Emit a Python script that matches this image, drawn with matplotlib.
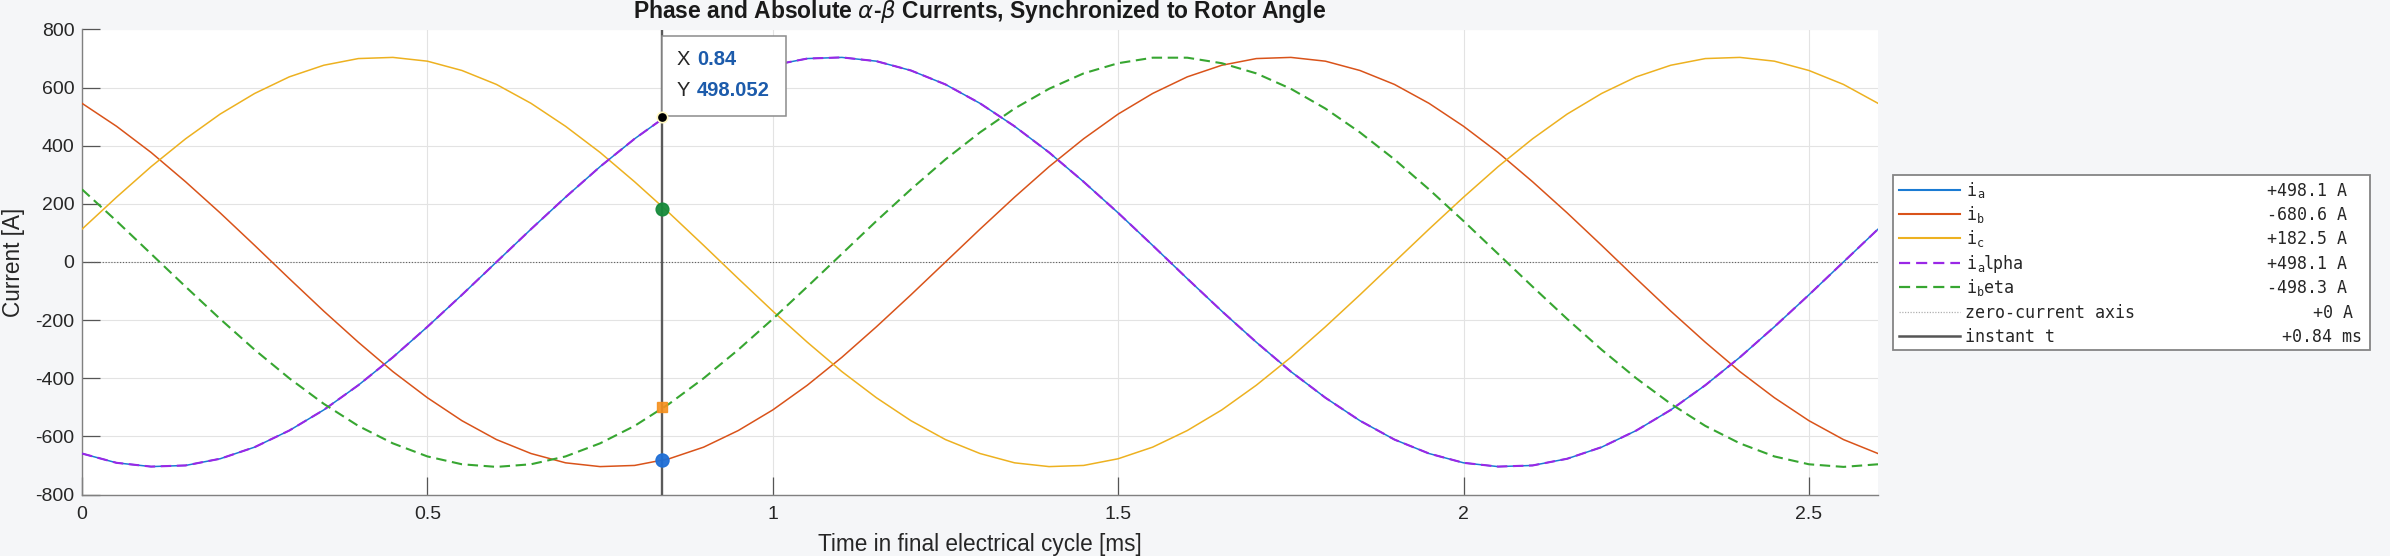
import matplotlib
matplotlib.use('Agg')
import matplotlib.pyplot as plt
from matplotlib.lines import Line2D
from matplotlib.patches import Rectangle
import numpy as np

# ------------------------------------------------------------------ data
# sample instants (ms) over the final electrical cycle, 0.05 ms apart
t_ms = np.linspace(0.0, 2.6, 53)

i_a = [-659, -691, -704, -700, -677, -637, -580, -509, -424, -328, -223, -113,
       0, 113, 223, 328, 424, 509, 580, 637, 677, 700, 704, 691, 659, 611,
       546, 467, 377, 276, 169, 57, -57, -169, -276, -377, -467, -546, -611,
       -659, -691, -704, -700, -677, -637, -580, -509, -424, -328, -223, -113,
       0, 113]
i_b = [546, 467, 377, 276, 169, 57, -57, -169, -276, -377, -467, -546, -611,
       -659, -691, -704, -700, -677, -637, -580, -509, -424, -328, -223, -113,
       0, 113, 223, 328, 424, 509, 580, 637, 677, 700, 704, 691, 659, 611,
       546, 467, 377, 276, 169, 57, -57, -169, -276, -377, -467, -546, -611,
       -659]
i_c = [113, 223, 328, 424, 509, 580, 637, 677, 700, 704, 691, 659, 611, 546,
       467, 377, 276, 169, 57, -57, -169, -276, -377, -467, -546, -611, -659,
       -691, -704, -700, -677, -637, -580, -509, -424, -328, -223, -113, 0,
       113, 223, 328, 424, 509, 580, 637, 677, 700, 704, 691, 659, 611, 546]
i_alpha = list(i_a)  # identical to phase a in the picture
i_beta = [250, 141, 28, -85, -196, -302, -400, -488, -564, -624, -669, -696,
          -705, -696, -669, -624, -564, -488, -400, -302, -196, -85, 28, 141,
          250, 353, 446, 528, 596, 649, 684, 703, 703, 684, 649, 596, 528, 446,
          353, 250, 141, 28, -85, -196, -302, -400, -488, -564, -624, -669,
          -696, -705, -696]

x_ticks = [0, 0.5, 1, 1.5, 2, 2.5]
x_tick_labels = ['0', '0.5', '1', '1.5', '2', '2.5']
y_ticks = [-800, -600, -400, -200, 0, 200, 400, 600, 800]
y_tick_labels = ['-800', '-600', '-400', '-200', '0', '200', '400', '600', '800']

cursor_t = 0.84
readout_names = ['a', 'b', 'c', 'alpha', 'beta']
readout_vals = [498.1, -680.6, 182.5, 498.1, -498.3]
zero_val = 0
datatip_x = 0.84
datatip_y = 498.052

# ------------------------------------------------------------------ style
C_A = '#1a7bd3'
C_B = '#d9531a'
C_C = '#edb120'
C_AL = '#9a27e6'
C_BE = '#37a631'
TXT = '#262626'
BG = '#f5f6f8'
SANS = ['Liberation Sans', 'DejaVu Sans']
MONO = ['DejaVu Sans Mono']

plt.rcParams['font.family'] = SANS

W, H = 2390, 556
fig = plt.figure(figsize=(W / 100, H / 100), dpi=100, facecolor=BG)
ax = fig.add_axes([82 / W, (H - 494.5) / H, (1878 - 82) / W, (494.5 - 29.5) / H])
ov = fig.add_axes([0, 0, 1, 1], zorder=5)
ov.set_xlim(0, W)
ov.set_ylim(H, 0)
ov.axis('off')

ax.set_facecolor('white')
dash = (0, (5, 2.7))
ax.plot(t_ms, i_a, color=C_A, lw=1.1, zorder=3)
ax.plot(t_ms, i_b, color=C_B, lw=1.1, zorder=3)
ax.plot(t_ms, i_c, color=C_C, lw=1.1, zorder=3)
ax.plot(t_ms, i_alpha, color=C_AL, lw=1.5, ls=dash, zorder=4)
ax.plot(t_ms, i_beta, color=C_BE, lw=1.5, ls=dash, zorder=4)
ax.axhline(zero_val, color='#5f5f5f', lw=0.8, ls=(0, (1, 1.6)), zorder=2)
ax.axvline(cursor_t, color='#5a5a5a', lw=1.7, zorder=6)

# cursor markers
ax.plot([cursor_t], [readout_vals[2]], 'o', ms=9.2, color='#168a3b', alpha=0.95, zorder=7)
ax.plot([cursor_t], [readout_vals[4]], 's', ms=7.0, color='#f5901e', alpha=0.9, zorder=7)
ax.plot([cursor_t], [readout_vals[1]], 'o', ms=9.4, color='#1f6fd6', alpha=0.95, zorder=7)

ax.set_xlim(0, 2.6)
ax.set_ylim(-800, 800)
ax.set_xticks(x_ticks)
ax.set_xticklabels(x_tick_labels)
ax.set_yticks(y_ticks)
ax.set_yticklabels(y_tick_labels)
ax.tick_params(direction='in', length=13, width=0.9, color='#555555',
               labelsize=14, labelcolor=TXT)
ax.tick_params(axis='y', pad=5.5)
ax.tick_params(axis='x', pad=8)
ax.grid(True, color='#e3e3e3', lw=0.8, zorder=0)
ax.set_axisbelow(True)
for s in ['top', 'right']:
    ax.spines[s].set_visible(False)
for s in ['left', 'bottom']:
    ax.spines[s].set_color('#808080')
    ax.spines[s].set_linewidth(1.0)

ax.set_title('Phase and Absolute $\\alpha$-$\\beta$ Currents, Synchronized to Rotor Angle',
             fontsize=16.5, fontweight='bold', color='#1a1a1a', pad=8)
ax.set_xlabel('Time in final electrical cycle [ms]', fontsize=16.3, color=TXT)
ax.xaxis.set_label_coords(0.5, -0.082)
ax.set_ylabel('Current [A]', fontsize=16.3, color=TXT)
ax.yaxis.set_label_coords(-0.032, 0.5)

# datatip box (pixel layout) + black datatip marker
ax.add_patch(Rectangle((662.5, 35.7), 123.2, 80.0, transform=ov.transData,
                       facecolor='white', edgecolor='#8c8c8c', lw=1.1,
                       zorder=10, clip_on=False))
ax.plot([datatip_x], [datatip_y], 'o', ms=7.5, mfc='black', mec='#fff7c0',
        mew=1.2, zorder=11, clip_on=False)
ov.text(676.5, 65, 'X', fontsize=14.5, color=TXT, va='baseline', ha='left')
ov.text(697.5, 65, f'{datatip_x:g}', fontsize=14.5, color='#1c5bab',
        fontweight='bold', va='baseline', ha='left')
ov.text(676.5, 96, 'Y', fontsize=14.5, color=TXT, va='baseline', ha='left')
ov.text(696.5, 96, f'{datatip_y:g}', fontsize=14.5, color='#1c5bab',
        fontweight='bold', va='baseline', ha='left')

# legend (pixel layout)
ov.add_patch(Rectangle((1893, 175), 477, 175, facecolor='white',
                       edgecolor='#858585', lw=1.3))
rows_y = [189.5 + 24.4 * i for i in range(7)]
handles = [
    dict(color=C_A, lw=1.5, ls='-'),
    dict(color=C_B, lw=1.5, ls='-'),
    dict(color=C_C, lw=1.5, ls='-'),
    dict(color=C_AL, lw=1.6, ls=(0, (5, 2.7))),
    dict(color=C_BE, lw=1.6, ls=(0, (5, 2.7))),
    dict(color='#b0b0b0', lw=0.9, ls=(0, (1, 1.2))),
    dict(color='#555555', lw=1.8, ls='-'),
]
for y, h in zip(rows_y, handles):
    ov.add_line(Line2D([1899, 1960], [y, y], **h))

x0 = 1967
cw = 9.9
subs = [('i', 'a', ''), ('i', 'b', ''), ('i', 'c', ''), ('i', 'a', 'lpha'), ('i', 'b', 'eta')]
for y, (m, s, rest) in zip(rows_y[:5], subs):
    ov.text(x0, y + 6.2, m, fontsize=12, family=MONO, color=TXT, va='baseline')
    ov.text(x0 + cw, y + 9.0, s, fontsize=8.5, family=MONO, color=TXT, va='baseline')
    if rest:
        ov.text(x0 + cw + 7.2, y + 6.2, rest, fontsize=12, family=MONO, color=TXT, va='baseline')
ov.text(1965, rows_y[5] + 6.2, 'zero-current axis', fontsize=12, family=MONO,
        color=TXT, va='baseline')
ov.text(1965, rows_y[6] + 6.2, 'instant t', fontsize=12, family=MONO,
        color=TXT, va='baseline')

for y, v in zip(rows_y[:5], readout_vals):
    ov.text(2347, y + 6.2, f'{v:+.1f} A', fontsize=12, family=MONO, color=TXT,
            va='baseline', ha='right')
ov.text(2353, rows_y[5] + 6.2, f'{zero_val:+d} A', fontsize=12, family=MONO,
        color=TXT, va='baseline', ha='right')
ov.text(2362, rows_y[6] + 6.2, f'{cursor_t:+.2f} ms', fontsize=12, family=MONO,
        color=TXT, va='baseline', ha='right')

fig.savefig('out.png', dpi=100, facecolor=BG)
